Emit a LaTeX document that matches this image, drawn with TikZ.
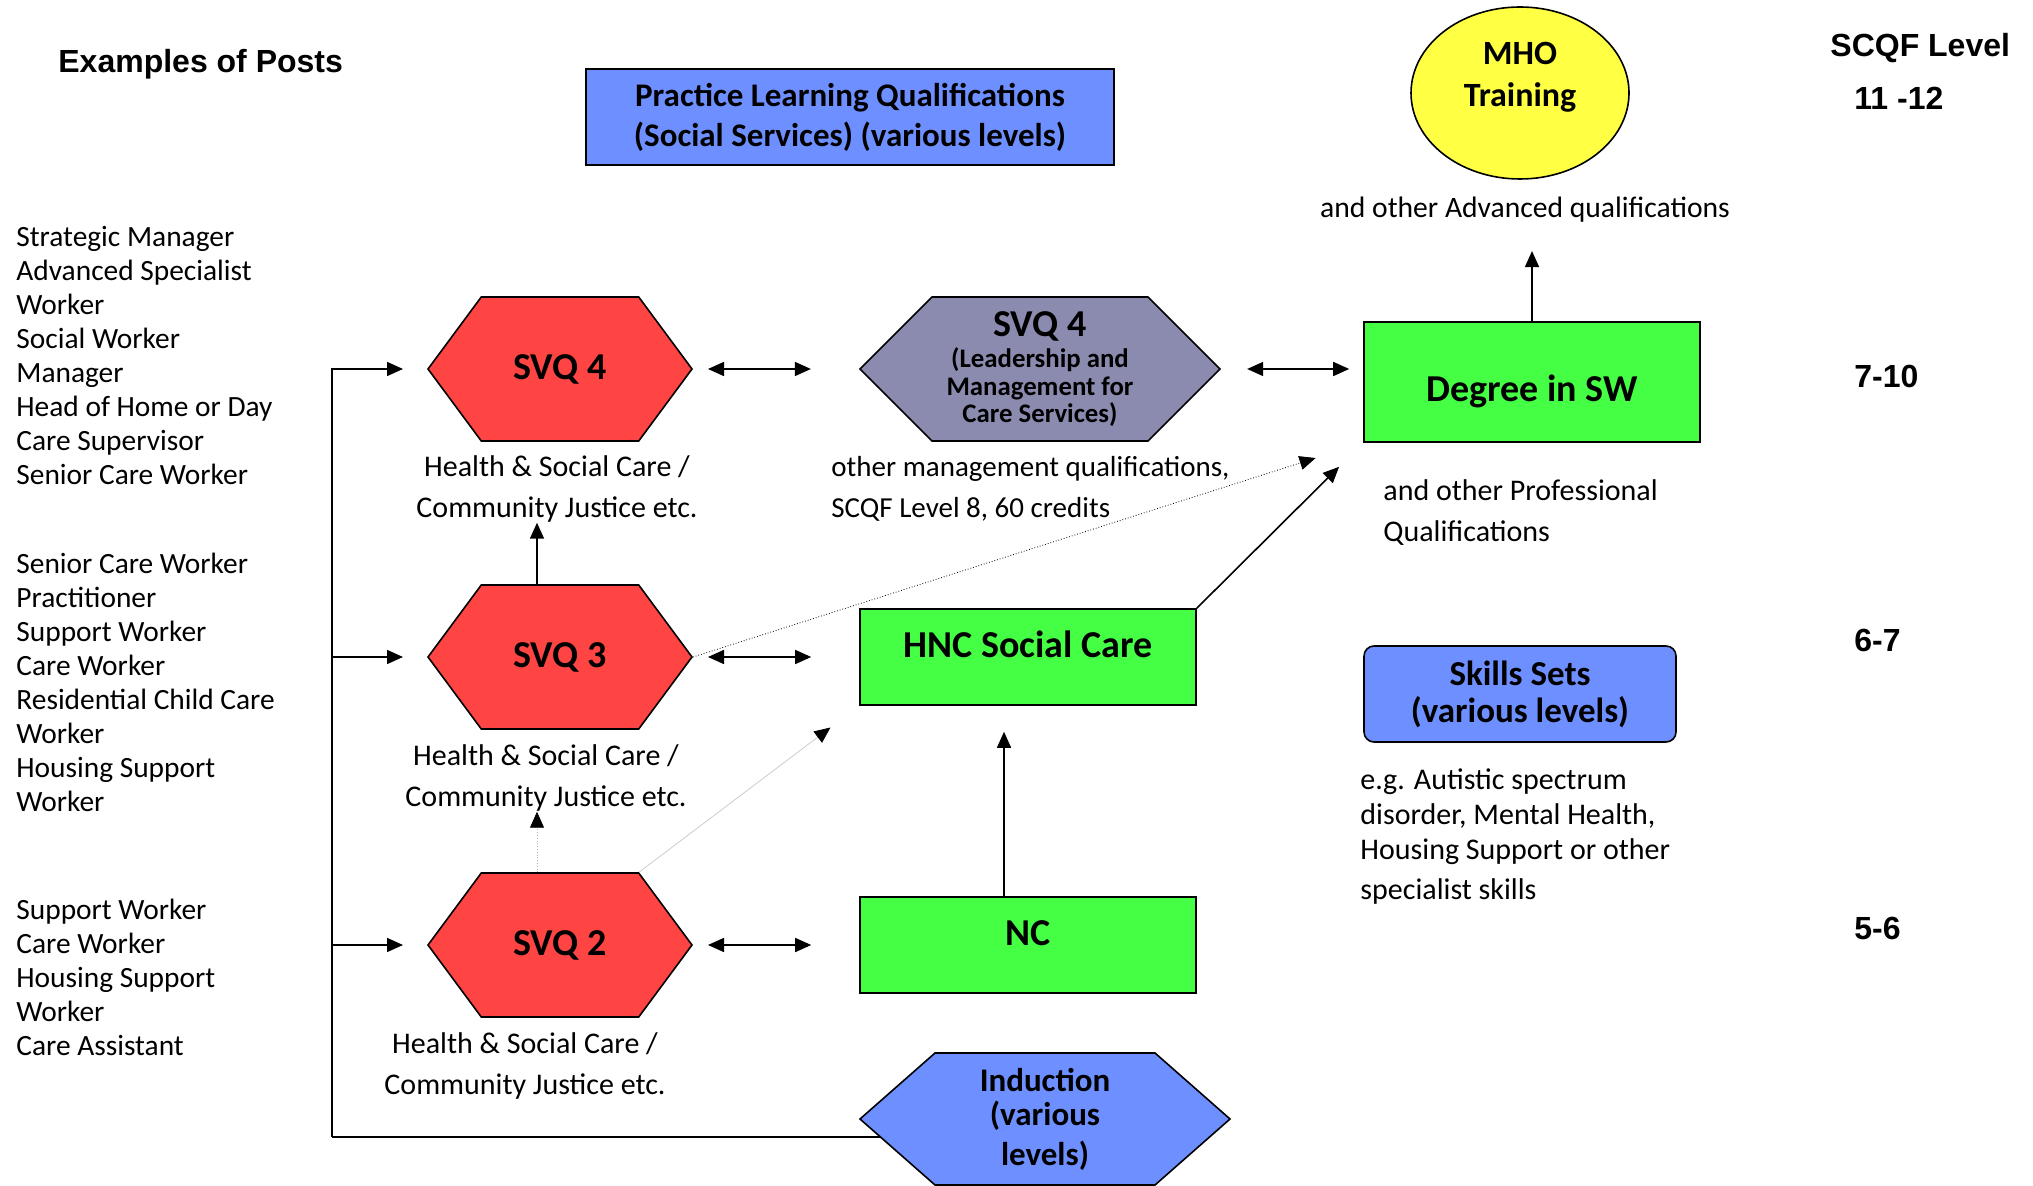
\documentclass[tikz,border=0pt]{standalone}
\usepackage{fontspec}
\setmainfont{Carlito}
\newfontfamily\arialfont{Liberation Sans}
\usetikzlibrary{shapes.symbols, shapes.geometric, positioning, calc, arrows.meta, backgrounds}

\begin{document}
\begin{tikzpicture}[x=0.5pt, y=-0.5pt,
    hexa/.style={signal, signal to=east and west, draw, thick, inner sep=0pt, align=center},
    box/.style={rectangle, draw, thick, inner sep=0pt, align=center},
    arr/.style={thick, -{Triangle[length=8pt, width=7pt]}},
    dblarr/.style={thick, {Triangle[length=8pt, width=7pt]}-{Triangle[length=8pt, width=7pt]}},
    faint/.style={thin, densely dotted, draw=gray!60, -{Triangle[length=8pt, width=7pt, color=black]}},
    posts/.style={anchor=north west, inner sep=0pt, align=left, font=\fontsize{14.7}{17}\selectfont},
    note/.style={inner sep=0pt, align=center, font=\fontsize{15}{20.5}\selectfont},
    big/.style={font=\bfseries\fontsize{19}{22}\selectfont},
    level/.style={anchor=west, inner sep=0pt, font=\arialfont\bfseries\fontsize{16}{19}\selectfont}]

    % Colours
    \definecolor{svqred}{RGB}{255, 68, 68}
    \definecolor{qualgreen}{RGB}{68, 255, 68}
    \definecolor{qualblue}{RGB}{110, 143, 255}
    \definecolor{mgmtgrey}{RGB}{139, 139, 176}
    \definecolor{mhoyellow}{RGB}{255, 255, 68}

    \useasboundingbox (0,0) rectangle (2033,1186);

    % 1. Headings and SCQF levels
    \node[level] (posthead) at (58,64) {Examples of Posts};
    \node[level] (scqfhead) at (1830,48) {SCQF Level};
    \node[level] (lvlA) at (1854,98) {11 -12};
    \node[level] (lvlB) at (1854,376) {7-10};
    \node[level] (lvlC) at (1854,640) {6-7};
    \node[level] (lvlD) at (1854,928) {5-6};

    % 2. Examples of posts (left column)
    \node[posts] (postsA) at (16,226) {Strategic Manager\\Advanced Specialist\\Worker\\Social Worker\\Manager\\Head of Home or Day\\Care Supervisor\\Senior Care Worker};
    \node[posts] (postsB) at (16,553) {Senior Care Worker\\Practitioner\\Support Worker\\Care Worker\\Residential Child Care\\Worker\\Housing Support\\Worker};
    \node[posts] (postsC) at (16,899) {Support Worker\\Care Worker\\Housing Support\\Worker\\Care Assistant};

    % 3. SVQ hexagons and captions
    \node[hexa, big, signal pointer angle=107, fill=svqred, minimum width=132pt, minimum height=72pt] (svq4) at (560,369) {SVQ 4};
    \node[hexa, big, signal pointer angle=107, fill=svqred, minimum width=132pt, minimum height=72pt] (svq3) at (560,657) {SVQ 3};
    \node[hexa, big, signal pointer angle=107, fill=svqred, minimum width=132pt, minimum height=72pt] (svq2) at (560,945) {SVQ 2};
    \node[note] (cap4) at (557,489) {Health \& Social Care /\\Community Justice etc.};
    \node[note] (cap3) at (546,778) {Health \& Social Care /\\Community Justice etc.};
    \node[note] (cap2) at (525,1066) {Health \& Social Care /\\Community Justice etc.};

    % 4. Middle column
    \node[box, fill=qualblue, minimum width=264pt, minimum height=48pt, font=\bfseries\fontsize{16.5}{20}\selectfont] (plq) at (850,117) {Practice Learning Qualifications\\(Social Services) (various levels)};
    \node[hexa, signal pointer angle=90, fill=mgmtgrey, minimum width=180pt, minimum height=72pt, font=\bfseries\fontsize{13.4}{13.7}\selectfont] (svq4m) at (1040,369) {{\fontsize{19}{22}\selectfont SVQ 4}\\[2pt](Leadership and\\Management for\\Care Services)};
    \node[note, anchor=west, align=left, font=\fontsize{14.5}{20.5}\selectfont] (mgmt) at (831,489) {other management qualifications,\\SCQF Level 8, 60 credits};
    \node[box, big, fill=qualgreen, minimum width=168pt, minimum height=48pt, text height=10pt, text depth=10pt] (hnc) at (1028,657) {HNC Social Care};
    \node[box, big, fill=qualgreen, minimum width=168pt, minimum height=48pt, text height=10pt, text depth=10pt] (nc) at (1028,945) {NC};
    \node[hexa, signal pointer angle=82.7, fill=qualblue, minimum width=185pt, minimum height=66pt, font=\bfseries\fontsize{16.5}{17}\selectfont] (ind) at (1045,1119) {Induction\\(various\\[3pt]levels)};

    % 5. Right column
    \node[ellipse, draw, thick, fill=mhoyellow, minimum width=109pt, minimum height=86pt, inner sep=0pt] (mho) at (1520,93) {};
    \node[inner sep=0pt, align=center, font=\bfseries\fontsize{17}{21}\selectfont] (mhotxt) at (1520,77) {MHO\\Training};
    \node[note, font=\fontsize{14.8}{20.5}\selectfont] (advq) at (1525,210) {and other Advanced qualifications};
    \node[box, big, fill=qualgreen, minimum width=168pt, minimum height=60pt, text height=20pt, text depth=0pt] (degree) at (1532,382) {Degree in SW};
    \node[note, anchor=west, align=left] (prof) at (1383,513) {and other Professional\\Qualifications};
    \node[box, rounded corners=5pt, fill=qualblue, minimum width=156pt, minimum height=48pt, font=\bfseries\fontsize{17.5}{18.5}\selectfont] (skills) at (1520,694) {Skills Sets\\(various levels)};
    \node[posts, font=\fontsize{15}{17.5}\selectfont] (skillnote) at (1360,768) {e.g. Autistic spectrum\\disorder, Mental Health,\\Housing Support or other\\[2.5pt]specialist skills};

    % 6. Entry line from Induction to the SVQs
    \coordinate (busbot) at (332,1137);
    \begin{scope}[on background layer]
        \draw[thick] (busbot) -- (busbot -| ind.center);
    \end{scope}
    \draw[arr, shorten >=12pt] (busbot) -- (busbot |- svq4.west) -- (svq4.west);
    \foreach \h in {svq3, svq2} {
        \draw[arr, shorten >=12pt] (busbot |- \h.west) -- (\h.west);
    }

    % 7. Links between levels
    \foreach \l/\r in {svq4/svq4m, svq3/hnc, svq2/nc} {
        \draw[dblarr, shorten <=7.5pt, shorten >=24pt] (\l.east) -- (\r.west);
    }
    \draw[dblarr, shorten <=13pt, shorten >=7pt] (svq4m.east) -- (svq4m.east -| degree.west);
    \draw[arr] ([xshift=-11.5pt]svq3.north) -- ([xshift=-11.5pt]svq3.north |- cap4.south);
    \draw[faint] ([xshift=-11.5pt]svq2.north) -- ([xshift=-11.5pt]svq2.north |- cap3.south);
    \draw[faint, solid, draw=gray!40, shorten >=18pt] ([xshift=39.5pt]svq2.north) -- (hnc.south west);
    \draw[thin, densely dotted, -{Triangle[length=8pt, width=7pt]}, shorten >=25pt] (svq3.east) -- (degree.south west);
    \draw[arr, shorten >=17pt] (hnc.north east) -- (degree.south west);
    \draw[arr, shorten >=13pt] ([xshift=-12pt]nc.north) -- ([xshift=-12pt]nc.north |- hnc.south);
    \draw[arr, shorten >=14pt] (degree.north) -- (degree.north |- advq.south);

\end{tikzpicture}
\end{document}
